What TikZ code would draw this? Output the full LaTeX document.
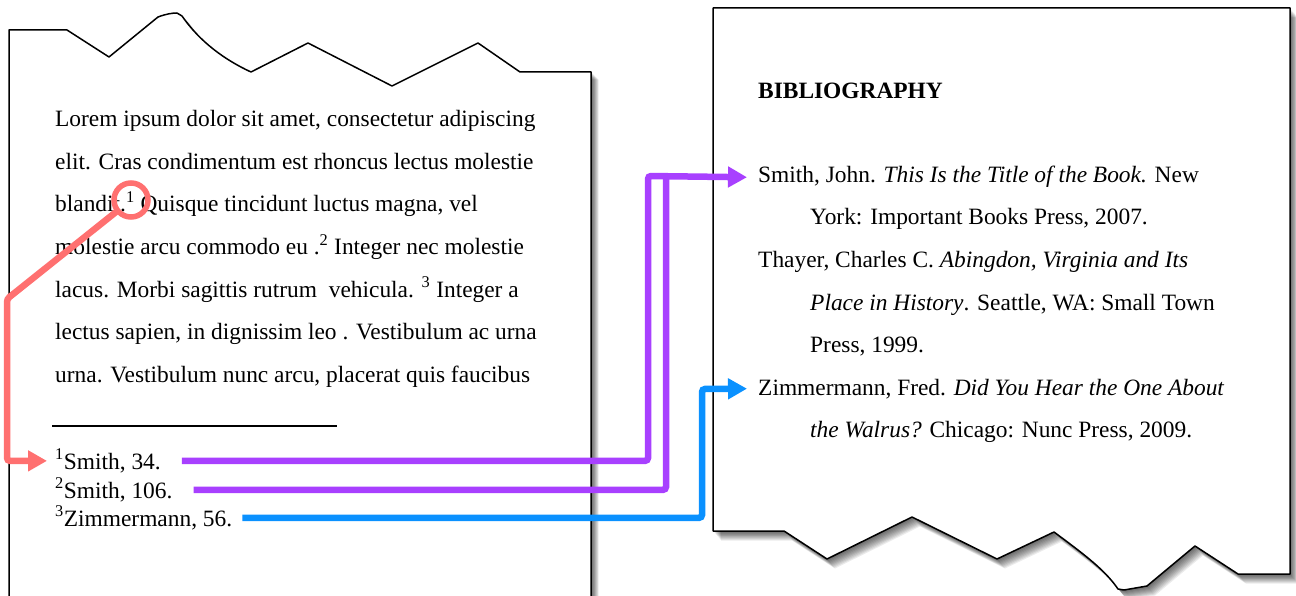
\documentclass[tikz,border=0pt]{standalone}
\usepackage{fontspec}
\setmainfont{Liberation Serif}
\usetikzlibrary{arrows.meta,calc}
\definecolor{redc}{RGB}{255,112,112}
\definecolor{purc}{RGB}{168,64,255}
\definecolor{bluc}{RGB}{10,145,255}
\newcommand\leftpagepath{(9,30) -- (67,30) -- (109,57) -- (158,17) .. controls (166,14) and (172,13) .. (177,13) -- (182,16) .. controls (200,42) and (225,60) .. (251,72) -- (308,43) -- (392,86) -- (478,43) -- (520,72) -- (591,72) -- (591,640) -- (9,640) -- cycle}
\newcommand\rightpagepath{(713,8) -- (1290,8) -- (1290,574) -- (1238,574) -- (1195,546) -- (1147,586) -- (1124,590) -- (1118,589) .. controls (1105,570) and (1085,555) .. (1054,532) -- (997,559) -- (912,517) -- (827,559) -- (784,531) -- (713,531) -- cycle}
\tikzset{
  txt/.style={inner sep=0pt, anchor=base west, font=\fontsize{23.4}{28}\selectfont},
  page/.style={fill=white, draw=black, line width=1.5pt, line join=round},
  conn/.style={line width=6.5pt, rounded corners=3pt},
  tip/.style={-{Triangle[length=19pt,width=20pt]}},
  ring/.style={draw=redc, line width=5.5pt}
}
\begin{document}
\begin{tikzpicture}[x=1pt,y=-1pt]
\useasboundingbox (0,0) rectangle (1296,596);
\clip (0,0) rectangle (1296,596);
\fill[white] (0,0) rectangle (1296,596);
% shadows
\foreach \s in {1,...,10} {
  \fill[black,opacity=0.08,shift={(\s*0.75,\s*0.75)}] \leftpagepath;
  \fill[black,opacity=0.08,shift={(\s*0.8,\s*0.95)}] \rightpagepath;
}
\filldraw[page] \leftpagepath;
\filldraw[page] \rightpagepath;
% left page text
\node[txt] (l1) at (55,127) {Lorem ipsum dolor sit amet, consectetur adipiscing};
\node[txt] (l2) at (55,169.5) {elit. Cras condimentum est rhoncus lectus molestie};
\node[txt] (l3) at (55,212) {blandit.\textsuperscript{1} Quisque tincidunt luctus magna, vel};
\node[txt] (l4) at (55,254.5) {molestie arcu commodo eu .\textsuperscript{2} Integer nec molestie};
\node[txt] (l5) at (55,297) {lacus. Morbi sagittis rutrum\ \ vehicula. \textsuperscript{3} Integer a};
\node[txt] (l6) at (55,339.5) {lectus sapien, in dignissim leo . Vestibulum ac urna};
\node[txt] (l7) at (55,382) {urna. Vestibulum nunc arcu, placerat quis faucibus};
\draw[line width=1.2pt] (52,426) -- (337,426);
\node[txt] (f1) at (55,469) {\textsuperscript{1}Smith, 34.};
\node[txt] (f2) at (55,498) {\textsuperscript{2}Smith, 106.};
\node[txt] (f3) at (55,526) {\textsuperscript{3}Zimmermann, 56.};
% right page text
\node[txt,font=\fontsize{23.4}{28}\selectfont\bfseries] (bib) at (758,99) {BIBLIOGRAPHY};
\node[txt] (b1) at (758,183) {Smith, John. \textit{This Is the Title of the Book.} New};
\node[txt] (b1b) at (810,225) {York: Important Books Press, 2007.};
\node[txt] (b2) at (758,268) {Thayer, Charles C. \textit{Abingdon, Virginia and Its}};
\node[txt] (b2b) at (810,310) {\textit{Place in History}. Seattle, WA: Small Town};
\node[txt] (b2c) at (810,352) {Press, 1999.};
\node[txt] (b3) at (758,395) {Zimmermann, Fred. \textit{Did You Hear the One About}};
\node[txt] (b3b) at (810,437) {\textit{the Walrus?} Chicago: Nunc Press, 2009.};
% connectors
\node[circle, minimum size=34pt, inner sep=0pt] (circ) at (131,200) {};
\draw[ring] (circ.center) circle[radius=17pt];
\coordinate (r1) at (7,299);
\draw[conn, redc, tip] (circ) -- (r1) |- ([xshift=-8pt]f1.west);
\coordinate (c1) at (648,176);
\coordinate (c2) at (666,179);
\coordinate (c3) at (702,389);
\draw[conn, purc, tip] ([xshift=21pt]f1.east) -| (c1) -- ([xshift=-11pt]b1.west);
\draw[conn, purc] ([xshift=21pt]f2.east) -| (c2);
\draw[conn, bluc, tip] ([xshift=10pt]f3.east) -| (c3) -- ([xshift=-11pt]b3.west);
\end{tikzpicture}
\end{document}
